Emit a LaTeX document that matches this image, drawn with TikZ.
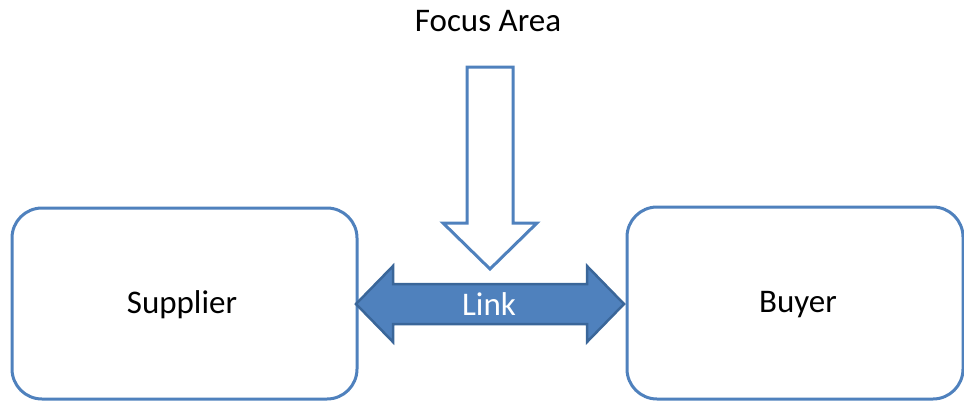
\documentclass[tikz,border=0pt]{standalone}
\usepackage{fontspec}
\setmainfont{Carlito}
\definecolor{accent}{HTML}{4F81BD}
\definecolor{accentdark}{HTML}{3A6699}
\begin{document}
\begin{tikzpicture}[x=1pt,y=-1pt,
  party/.style={draw=accent,line width=3pt,rounded corners=30pt,fill=white},
  lbl/.style={font=\fontsize{33}{36}\selectfont,text=black}]
\useasboundingbox (0,0) rectangle (964,402);
\draw[party] (12,208) rectangle (357,399);
\draw[party] (627,207) rectangle (963,399);
\node[lbl] (supplier) at (182,305) {Supplier};
\node[lbl] (buyer) at (798,305) {Buyer};
\node[lbl] (focus) at (488,21) {Focus Area};
% focus arrow
\draw[accent,line width=3pt,fill=white,line join=miter]
  (467,67) -- (513,67) -- (513,223) -- (537,223) -- (490,269) -- (443,223) -- (467,223) -- cycle;
% link double arrow
\draw[accentdark,line width=2.5pt,fill=accent,line join=miter]
  (356,304) -- (393,266) -- (393,284) -- (587,284) -- (587,266) -- (624,304)
  -- (587,342) -- (587,324) -- (393,324) -- (393,342) -- cycle;
\node[lbl,text=white] (link) at (489,304) {Link};
\end{tikzpicture}
\end{document}
